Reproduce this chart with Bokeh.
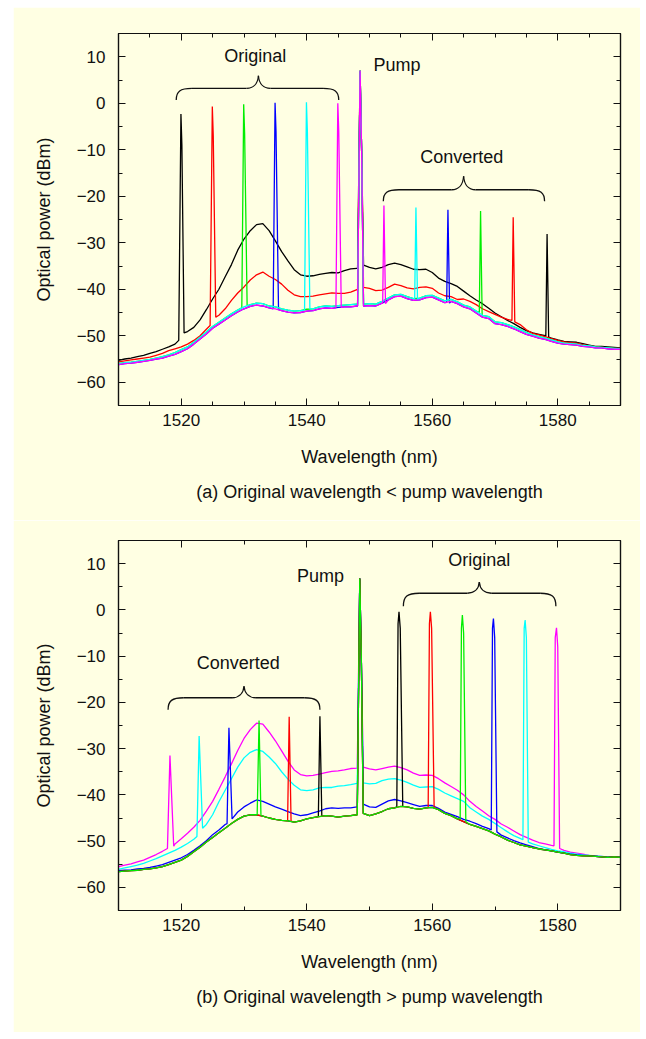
from bokeh.plotting import figure
from bokeh.models import FixedTicker, LinearAxis, Title, Label, CustomJSTickFormatter
from bokeh.layouts import column
from bokeh.embed import file_html
from bokeh.resources import INLINE

BG = "#FFFFE3"
INK = "#111111"
FONT = "Liberation Sans"

# Sampling grid of the ASE floor (nm)
grid_nm = list(range(1510, 1591))

# ---------------- (a) original wavelength < pump wavelength ----------------
a_black_floor = [
    -55.3, -55.0, -54.8, -54.5, -54.2, -53.8, -53.4, -52.9, -52.4, -51.8,
    -51.0, -49.1, -48.2, -46.6, -44.4, -42.1, -40.0, -37.3, -34.7, -31.6,
    -29.2, -27.4, -26.1, -25.9, -27.4, -29.6, -31.9, -33.9, -35.8, -36.9,
    -37.2, -37.1, -36.8, -36.6, -36.4, -36.5, -36.0, -35.6, -35.5, -34.8,
    -35.3, -35.6, -35.3, -34.7, -34.4, -34.7, -35.2, -35.7, -35.8, -35.7,
    -36.4, -37.6, -38.3, -38.8, -39.4, -40.4, -41.4, -42.3, -43.1, -44.1,
    -45.1, -45.9, -46.7, -47.4, -48.2, -48.9, -49.4, -49.7, -50.0, -50.5,
    -50.9, -51.2, -51.3, -51.4, -51.7, -52.0, -52.3, -52.3, -52.4, -52.5, -52.6]
a_red_floor = [
    -55.6, -55.4, -55.2, -55.0, -54.8, -54.6, -54.2, -53.8, -53.2, -52.8,
    -52.4, -51.8, -51.0, -50.0, -48.6, -47.0, -45.6, -44.2, -42.4, -40.8,
    -39.5, -38.0, -36.9, -36.3, -37.2, -37.9, -38.9, -40.2, -41.2, -41.6,
    -41.6, -41.5, -41.2, -41.0, -40.8, -40.9, -40.9, -40.6, -40.1, -39.6,
    -39.8, -40.3, -40.2, -39.6, -38.9, -39.2, -39.7, -39.9, -39.6, -39.5,
    -39.8, -40.8, -41.4, -41.6, -42.2, -42.1, -42.6, -43.3, -44.2, -44.8,
    -45.4, -46.0, -46.5, -47.1, -47.6, -48.7, -49.5, -49.8, -50.2, -50.6,
    -51.0, -51.3, -51.5, -51.6, -51.9, -52.2, -52.4, -52.5, -52.6, -52.7, -52.7]
# green / cyan runs slightly above blue / magenta
a_gc_floor = [
    -56.0, -55.8, -55.7, -55.5, -55.3, -55.1, -54.8, -54.5, -54.1, -53.6,
    -53.0, -52.4, -51.4, -50.3, -49.2, -48.0, -47.1, -46.2, -45.3, -44.5,
    -43.8, -43.3, -43.0, -43.1, -43.6, -43.8, -44.2, -44.5, -44.7, -44.6,
    -44.3, -44.2, -43.8, -43.6, -43.7, -43.5, -43.4, -43.3, -43.2, -43.2,
    -43.1, -43.2, -42.6, -41.9, -41.2, -41.1, -41.6, -42.0, -41.9, -41.4,
    -41.3, -41.9, -42.5, -42.2, -42.7, -43.4, -43.8, -44.7, -45.6, -45.9,
    -47.0, -47.2, -47.6, -48.1, -48.7, -49.3, -49.8, -50.2, -50.5, -50.9,
    -51.3, -51.6, -51.7, -51.8, -52.1, -52.2, -52.4, -52.5, -52.6, -52.7, -52.8]
a_bm_floor = [
    -56.2, -56.0, -55.9, -55.7, -55.5, -55.3, -55.0, -54.8, -54.4, -54.0,
    -53.4, -52.8, -51.8, -50.7, -49.6, -48.4, -47.5, -46.6, -45.7, -44.9,
    -44.2, -43.7, -43.4, -43.6, -44.0, -44.2, -44.6, -44.9, -45.1, -45.0,
    -44.7, -44.6, -44.2, -44.0, -44.1, -43.9, -43.8, -43.8, -43.6, -43.6,
    -43.5, -43.6, -43.0, -42.3, -41.6, -41.5, -42.0, -42.4, -42.3, -41.8,
    -41.7, -42.3, -42.9, -42.6, -43.1, -43.8, -44.2, -45.1, -46.0, -46.3,
    -47.4, -47.6, -48.0, -48.5, -49.1, -49.7, -50.1, -50.5, -50.8, -51.2,
    -51.6, -51.8, -51.9, -52.0, -52.3, -52.4, -52.6, -52.6, -52.8, -52.9, -52.9]

a_pump_nm = [1548.1, 1548.5, 1548.75, 1549.05]
a_black_pump = [-35.5, 7.0, -10.6, -34.8]
a_red_pump = [-40.1, 7.0, -10.6, -39.6]
a_gc_pump = [-43.2, 7.0, -10.6, -43.2]
a_bm_pump = [-43.6, 7.0, -10.6, -43.6]

a_black_orig = ([1519.6, 1519.95, 1520.1, 1520.45], [-51.0, -2.3, -9.0, -49.4])
a_red_orig = ([1524.6, 1524.95, 1525.1, 1525.5], [-47.8, -0.7, -7.0, -46.0])
a_green_orig = ([1529.65, 1529.95, 1530.1, 1530.5], [-44.0, -0.2, -6.5, -43.6])
a_blue_orig = ([1534.65, 1534.95, 1535.1, 1535.5], [-44.2, 0.1, -6.0, -44.4])
a_cyan_orig = ([1539.65, 1539.95, 1540.1, 1540.5], [-44.5, 0.2, -6.0, -44.2])
a_magenta_orig = ([1544.65, 1544.95, 1545.1, 1545.5], [-44.0, 0.0, -6.0, -43.9])

a_black_conv = ([1578.1, 1578.3, 1578.55], [-50.1, -28.1, -50.3])
a_red_conv = ([1572.7, 1572.9, 1573.15], [-46.7, -24.5, -47.0])
a_green_conv = ([1567.5, 1567.7, 1567.95], [-45.0, -23.2, -45.6])
a_blue_conv = ([1562.3, 1562.5, 1562.75], [-42.8, -22.9, -43.0])
a_cyan_conv = ([1557.2, 1557.4, 1557.65], [-42.1, -22.4, -42.2])
a_magenta_conv = ([1552.1, 1552.3, 1552.55], [-43.0, -22.0, -43.1])

# ---------------- (b) original wavelength > pump wavelength ----------------
b_low_floor = [
    -56.6, -56.5, -56.4, -56.3, -56.1, -56.0, -55.8, -55.5, -55.1, -54.6,
    -54.1, -53.3, -52.3, -51.3, -50.2, -49.2, -48.2, -47.2, -46.2, -45.3,
    -44.6, -44.3, -44.3, -44.6, -45.0, -45.3, -45.5, -45.6, -45.9, -45.6,
    -45.2, -44.9, -44.7, -44.5, -44.6, -44.8, -44.6, -44.5, -44.3, -44.0,
    -44.5, -44.1, -43.6, -43.0, -42.8, -42.5, -42.6, -42.9, -43.1, -42.8,
    -42.7, -43.2, -44.0, -44.5, -45.2, -45.8, -46.4, -46.8, -47.3, -47.8,
    -48.5, -49.1, -49.8, -50.3, -50.8, -51.1, -51.4, -51.7, -51.9, -52.1,
    -52.4, -52.6, -52.9, -53.1, -53.2, -53.2, -53.3, -53.4, -53.5, -53.4, -53.5]
b_blue_floor = [
    -56.4, -56.3, -56.2, -56.0, -55.9, -55.7, -55.4, -55.1, -54.6, -54.1,
    -53.6, -52.9, -52.0, -51.0, -49.9, -48.6, -47.6, -46.4, -45.2, -43.7,
    -42.6, -41.8, -41.1, -41.4, -42.0, -42.6, -43.1, -43.6, -44.1, -44.5,
    -44.3, -43.9, -43.5, -43.0, -42.8, -42.9, -42.8, -42.8, -42.6, -42.0,
    -42.6, -42.7, -42.0, -41.3, -41.0, -41.3, -41.7, -42.1, -42.5, -42.3,
    -42.3, -42.9, -43.7, -44.2, -44.7, -45.3, -45.7, -46.2, -46.8, -47.3,
    -47.8, -48.7, -49.3, -49.9, -50.4, -50.8, -51.2, -51.6, -51.9, -52.1,
    -52.4, -52.6, -52.8, -53.0, -53.1, -53.2, -53.3, -53.4, -53.5, -53.4, -53.5]
b_cyan_floor = [
    -56.1, -55.8, -55.5, -55.2, -54.8, -54.3, -53.8, -53.2, -52.6, -52.0,
    -51.3, -50.5, -49.6, -48.0, -46.4, -44.3, -41.5, -39.0, -36.5, -34.0,
    -32.0, -30.8, -30.2, -30.6, -31.8, -33.2, -35.0, -36.6, -37.9, -38.9,
    -39.1, -38.9, -38.5, -38.4, -38.4, -38.1, -38.0, -37.8, -37.5, -37.4,
    -37.6, -37.5, -36.9, -36.6, -36.5, -36.8, -37.3, -37.9, -38.4, -38.3,
    -38.2, -38.8, -39.6, -40.2, -40.8, -41.4, -42.8, -43.7, -44.6, -45.3,
    -46.2, -47.1, -48.0, -48.8, -49.4, -50.0, -50.6, -51.0, -51.4, -51.8,
    -52.1, -52.3, -52.6, -52.8, -53.0, -53.1, -53.2, -53.3, -53.4, -53.4, -53.4]
b_magenta_floor = [
    -55.5, -55.2, -54.9, -54.5, -54.1, -53.5, -52.9, -52.2, -51.8, -50.6,
    -49.5, -48.3, -47.0, -45.5, -43.5, -41.4, -38.8, -36.1, -33.3, -30.4,
    -27.8, -25.9, -24.5, -24.7, -26.4, -28.3, -30.5, -32.7, -34.6, -35.6,
    -35.9, -35.8, -35.5, -35.2, -34.9, -34.8, -34.6, -34.3, -34.2, -34.0,
    -34.4, -34.6, -34.3, -34.0, -33.8, -34.1, -34.6, -35.3, -35.8, -35.7,
    -35.8, -36.5, -37.4, -38.2, -39.0, -40.0, -41.4, -42.5, -43.5, -44.5,
    -45.3, -46.3, -47.0, -47.8, -48.6, -49.2, -49.8, -50.3, -50.6, -50.9,
    -51.5, -52.0, -52.4, -52.6, -52.8, -53.1, -53.2, -53.3, -53.5, -53.4, -53.4]

b_pump_nm = [1548.05, 1548.45, 1548.7, 1549.0]
b_low_pump = [-44.3, 6.8, -10.6, -44.0]
b_blue_pump = [-42.6, 6.8, -10.6, -42.0]
b_cyan_pump = [-37.5, 6.8, -10.6, -37.4]
b_magenta_pump = [-34.2, 6.8, -10.6, -34.0]

b_black_conv = ([1541.85, 1542.1, 1542.4], [-44.7, -23.0, -44.6])
b_red_conv = ([1536.95, 1537.2, 1537.5], [-45.6, -23.1, -45.7])
b_green_conv = ([1532.1, 1532.4, 1532.7], [-44.3, -23.9, -44.4])
b_blue_conv = ([1527.3, 1527.6, 1528.1], [-46.2, -25.5, -45.2])
b_cyan_conv = ([1522.5, 1522.85, 1523.4], [-49.0, -27.3, -47.2])
b_magenta_conv = ([1517.8, 1518.2, 1518.8], [-51.6, -31.5, -51.1])

b_black_orig = ([1554.35, 1554.55, 1554.7, 1554.9, 1555.3], [-42.6, -3.0, -0.4, -4.0, -42.5])
b_red_orig = ([1559.35, 1559.55, 1559.7, 1559.9, 1560.3], [-42.8, -3.0, -0.4, -4.0, -42.7])
b_green_orig = ([1564.45, 1564.65, 1564.8, 1565.0, 1565.35], [-45.2, -4.0, -1.1, -5.0, -45.8])
b_blue_orig = ([1569.4, 1569.6, 1569.75, 1569.95, 1570.3], [-47.6, -4.0, -1.9, -6.0, -48.0])
b_cyan_orig = ([1574.45, 1574.65, 1574.8, 1575.0, 1575.3], [-49.7, -4.0, -2.2, -6.0, -50.2])
b_magenta_orig = ([1579.4, 1579.6, 1579.8, 1580.0, 1580.3], [-51.0, -6.0, -3.9, -8.0, -51.6])

# Annotation texts and their anchor points (nm, dBm)
a_notes = [("Original", 1531.8, 10.1), ("Pump", 1554.4, 8.2), ("Converted", 1564.7, -11.6)]
b_notes = [("Pump", 1542.2, 7.4), ("Converted", 1529.1, -11.5), ("Original", 1567.5, 10.7)]

# Braces: left end, right end, tip position, end level, bar level, tip level
a_braces = dict(x0=[1519.2, 1552.2], x1=[1545.1, 1577.9], xc=[1532.3, 1565.0],
                yend=[0.7, -21.1], ymid=[3.2, -18.6], ytip=[5.9, -15.7])
b_braces = dict(x0=[1517.9, 1555.4], x1=[1542.1, 1579.7], xc=[1530.0, 1567.5],
                yend=[-21.6, 0.8], ymid=[-19.0, 3.6], ytip=[-16.5, 6.0])

COLORS = dict(black="#000000", red="#FF0000", green="#00EE00", blue="#0000FF",
              cyan="#00FFFF", magenta="#FF00FF")


def build_trace(floor_db, segments):
    pts = list(zip(grid_nm, floor_db))
    for seg_nm, seg_db in segments:
        lo, hi = min(seg_nm), max(seg_nm)
        pts = [pt for pt in pts if not (lo <= pt[0] <= hi)]
        pts.extend(zip(seg_nm, seg_db))
    pts.sort(key=lambda pt: pt[0])
    return [pt[0] for pt in pts], [pt[1] for pt in pts]


traces_a = [
    ("black", build_trace(a_black_floor, [a_black_orig, a_black_conv, (a_pump_nm, a_black_pump)])),
    ("red", build_trace(a_red_floor, [a_red_orig, a_red_conv, (a_pump_nm, a_red_pump)])),
    ("blue", build_trace(a_bm_floor, [a_blue_orig, a_blue_conv, (a_pump_nm, a_bm_pump)])),
    ("green", build_trace(a_gc_floor, [a_green_orig, a_green_conv, (a_pump_nm, a_gc_pump)])),
    ("cyan", build_trace(a_gc_floor, [a_cyan_orig, a_cyan_conv, (a_pump_nm, a_gc_pump)])),
    ("magenta", build_trace(a_bm_floor, [a_magenta_orig, a_magenta_conv, (a_pump_nm, a_bm_pump)])),
]
traces_b = [
    ("magenta", build_trace(b_magenta_floor, [b_magenta_conv, b_magenta_orig, (b_pump_nm, b_magenta_pump)])),
    ("cyan", build_trace(b_cyan_floor, [b_cyan_conv, b_cyan_orig, (b_pump_nm, b_cyan_pump)])),
    ("blue", build_trace(b_blue_floor, [b_blue_conv, b_blue_orig, (b_pump_nm, b_blue_pump)])),
    ("black", build_trace(b_low_floor, [b_black_conv, b_black_orig, (b_pump_nm, b_low_pump)])),
    ("red", build_trace(b_low_floor, [b_red_conv, b_red_orig, (b_pump_nm, b_low_pump)])),
    ("green", build_trace(b_low_floor, [b_green_conv, b_green_orig, (b_pump_nm, b_low_pump)])),
]


def style_axis(ax, labelled):
    ax.axis_line_color = INK
    ax.axis_line_width = 1.2
    ax.major_tick_line_color = INK
    ax.minor_tick_line_color = INK
    ax.major_tick_in = 7
    ax.major_tick_out = 0
    ax.minor_tick_in = 4
    ax.minor_tick_out = 0
    ax.major_label_text_font = FONT
    ax.major_label_text_font_size = "17px"
    ax.major_label_text_color = INK
    if not labelled:
        ax.formatter = CustomJSTickFormatter(code="return ''")
        ax.major_label_standoff = 0


def draw_braces(p, b):
    r, r2 = 2.5, 1.9
    for x0, x1, xc, ye, ym, yt in zip(b["x0"], b["x1"], b["xc"], b["yend"], b["ymid"], b["ytip"]):
        # outer hooks
        p.bezier(x0=[x0, x1], y0=[ye, ye], x1=[x0 + r, x1 - r], y1=[ym, ym],
                 cx0=[x0, x1], cy0=[ye + 0.75 * (ym - ye)] * 2,
                 cx1=[x0 + 0.25 * r, x1 - 0.25 * r], cy1=[ym, ym],
                 line_color=INK, line_width=1.3)
        # straight bars
        p.segment(x0=[x0 + r, xc + r2], y0=[ym, ym], x1=[xc - r2, x1 - r], y1=[ym, ym],
                  line_color=INK, line_width=1.3)
        # centre point
        p.bezier(x0=[xc - r2, xc + r2], y0=[ym, ym], x1=[xc, xc], y1=[yt, yt],
                 cx0=[xc - 0.45 * r2, xc + 0.45 * r2], cy0=[ym, ym],
                 cx1=[xc - 0.05 * r2, xc + 0.05 * r2], cy1=[ym + 0.35 * (yt - ym)] * 2,
                 line_color=INK, line_width=1.3)


def make_panel(traces, notes, braces, minor_x, caption, top, frame_h, bottom):
    p = figure(frame_width=502, frame_height=frame_h,
               x_range=(1510, 1590), y_range=(-65, 15),
               output_backend="svg", toolbar_location=None,
               min_border_left=105, min_border_right=20,
               min_border_top=top, min_border_bottom=bottom,
               background_fill_color=BG, border_fill_color=BG,
               outline_line_color=INK, outline_line_width=1.2)
    p.grid.visible = False

    x_ticks = [1520, 1540, 1560, 1580]
    y_ticks = list(range(-60, 11, 10))
    y_minor = list(range(-65, 16, 5))

    xax = p.xaxis[0]
    xax.ticker = FixedTicker(ticks=x_ticks, minor_ticks=minor_x)
    style_axis(xax, True)
    xax.major_label_standoff = 8
    xax.axis_label = "Wavelength (nm)"
    xax.axis_label_standoff = 18

    yax = p.yaxis[0]
    yax.ticker = FixedTicker(ticks=y_ticks, minor_ticks=y_minor)
    style_axis(yax, True)
    yax.major_label_standoff = 13
    yax.axis_label = "Optical power (dBm)"
    yax.axis_label_standoff = 20

    for ax in (xax, yax):
        ax.axis_label_text_font = FONT
        ax.axis_label_text_font_size = "18px"
        ax.axis_label_text_font_style = "normal"
        ax.axis_label_text_color = INK

    top_ax = LinearAxis(ticker=FixedTicker(ticks=x_ticks, minor_ticks=minor_x))
    style_axis(top_ax, False)
    p.add_layout(top_ax, "above")
    right_ax = LinearAxis(ticker=FixedTicker(ticks=y_ticks, minor_ticks=y_minor))
    style_axis(right_ax, False)
    p.add_layout(right_ax, "right")

    for name, (nm, db) in traces:
        p.line(nm, db, line_color=COLORS[name], line_width=1.3)

    draw_braces(p, braces)
    for text, x, y in notes:
        p.add_layout(Label(x=x, y=y, text=text, text_font=FONT, text_font_size="18px",
                           text_align="center", text_baseline="middle", text_color=INK))

    cap = Title(text=caption, align="center", text_font=FONT, text_font_size="18px",
                text_font_style="normal", text_color=INK, standoff=20)
    p.add_layout(cap, "below")
    return p


p1 = make_panel(traces_a, a_notes, a_braces, [1515, 1525, 1530, 1535, 1545, 1550, 1555, 1565, 1570, 1575, 1585],
                "(a) Original wavelength < pump wavelength", top=26, frame_h=372, bottom=115)
p2 = make_panel(traces_b, b_notes, b_braces, [1530, 1550, 1570],
                "(b) Original wavelength > pump wavelength", top=20, frame_h=370, bottom=122)
p1.margin = (7, 0, 0, 13)
p2.margin = (0, 0, 0, 13)

page = column(p1, p2)
open("out.html", "w").write(file_html(page, INLINE))
